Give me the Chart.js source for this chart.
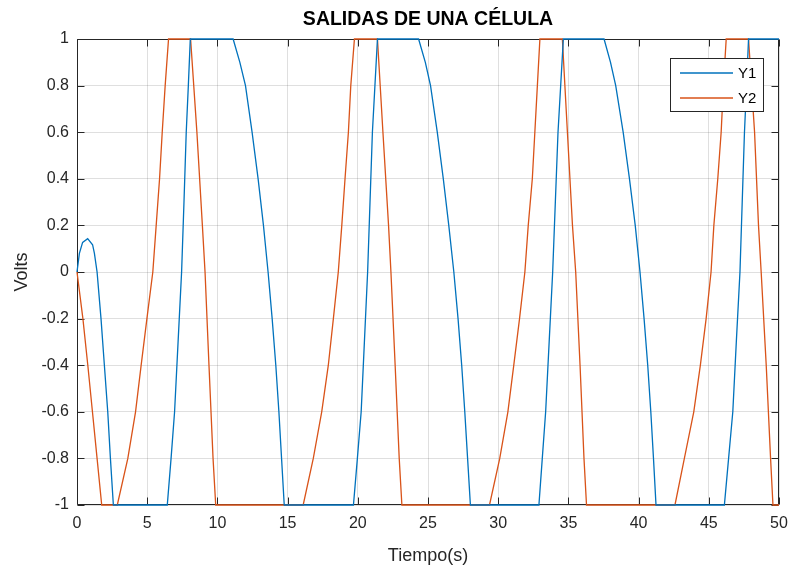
<!DOCTYPE html>
<html>
<head>
<meta charset="utf-8">
<script src="https://cdn.jsdelivr.net/npm/chart.js@4.4.1/dist/chart.umd.min.js"></script>
<style>
  html, body { margin: 0; padding: 0; background: #fff; }
  #wrap { width: 792px; height: 571px; position: relative; }
</style>
</head>
<body>
<div id="wrap"><canvas id="c" width="792" height="571"></canvas></div>
<script>
// ---- data ----
const chartTitle = 'SALIDAS DE UNA CÉLULA';
const xTitle = 'Tiempo(s)';
const yTitle = 'Volts';
const seriesNames = ['Y1', 'Y2'];

const y1Time = [0, 0.17, 0.4, 0.76, 1.11, 1.24, 1.43, 1.71, 1.95, 2.19, 2.38, 2.59,
  6.43, 6.7, 6.95, 7.2, 7.45, 7.62, 7.78, 7.93, 8.07,
  11.12, 11.6, 12.0, 12.47, 12.9, 13.28, 13.61, 13.9, 14.16, 14.38, 14.57, 14.76,
  19.69, 19.97, 20.24, 20.47, 20.7, 20.87, 21.04, 21.22, 21.4,
  24.33, 24.81, 25.18, 25.66, 26.09, 26.48, 26.84, 27.14, 27.4, 27.62, 27.82, 28.02,
  32.9, 33.14, 33.38, 33.63, 33.88, 34.07, 34.26, 34.45, 34.64,
  37.54, 38.0, 38.37, 38.9, 39.35, 39.76, 40.1, 40.39, 40.65, 40.87, 41.06, 41.24,
  46.11, 46.41, 46.71, 46.96, 47.22, 47.38, 47.54, 47.69, 47.83, 50];
const y1Volts = [0, 0.08, 0.127, 0.143, 0.117, 0.08, 0, -0.2, -0.4, -0.6, -0.8, -1,
  -1, -0.8, -0.6, -0.3, 0, 0.3, 0.6, 0.8, 1,
  1, 0.9, 0.8, 0.6, 0.4, 0.2, 0, -0.2, -0.4, -0.6, -0.8, -1,
  -1, -0.8, -0.6, -0.3, 0, 0.3, 0.6, 0.8, 1,
  1, 0.9, 0.8, 0.6, 0.4, 0.2, 0, -0.2, -0.4, -0.6, -0.8, -1,
  -1, -0.8, -0.6, -0.3, 0, 0.3, 0.6, 0.8, 1,
  1, 0.9, 0.8, 0.6, 0.4, 0.2, 0, -0.2, -0.4, -0.6, -0.8, -1,
  -1, -0.8, -0.6, -0.3, 0, 0.3, 0.6, 0.8, 1, 1];

const y2Time = [0, 0.42, 0.77, 1.1, 1.43, 1.76,
  2.87, 3.62, 4.17, 4.57, 4.98, 5.4, 5.64, 5.88, 6.07, 6.28, 6.52,
  8.09, 8.54, 8.93, 9.12, 9.4, 9.69, 9.88,
  16.11, 16.83, 17.43, 17.9, 18.26, 18.61, 18.86, 19.09, 19.33, 19.5, 19.76,
  21.4, 21.79, 22.19, 22.36, 22.66, 22.95, 23.14,
  29.38, 30.11, 30.69, 31.11, 31.52, 31.9, 32.14, 32.43, 32.61, 32.79, 32.97,
  34.57, 34.93, 35.29, 35.52, 35.83, 36.11, 36.29,
  42.59, 43.26, 43.93, 44.4, 44.81, 45.16, 45.36, 45.64, 45.88, 46.04, 46.24,
  47.83, 48.26, 48.54, 48.73, 49.09, 49.4, 49.57, 50];
const y2Volts = [0, -0.2, -0.4, -0.6, -0.8, -1,
  -1, -0.8, -0.6, -0.4, -0.2, 0, 0.2, 0.4, 0.6, 0.8, 1,
  1, 0.6, 0.2, 0, -0.4, -0.8, -1,
  -1, -0.8, -0.6, -0.4, -0.2, 0, 0.2, 0.4, 0.6, 0.8, 1,
  1, 0.6, 0.2, 0, -0.4, -0.8, -1,
  -1, -0.8, -0.6, -0.4, -0.2, 0, 0.2, 0.4, 0.6, 0.8, 1,
  1, 0.6, 0.2, 0, -0.4, -0.8, -1,
  -1, -0.8, -0.6, -0.4, -0.2, 0, 0.2, 0.4, 0.6, 0.8, 1,
  1, 0.6, 0.2, 0, -0.4, -0.8, -1, -1];

const xTicks = [0, 5, 10, 15, 20, 25, 30, 35, 40, 45, 50];
const yTicks = [-1, -0.8, -0.6, -0.4, -0.2, 0, 0.2, 0.4, 0.6, 0.8, 1];

// ---- build ----
const toPts = (xs, ys) => xs.map((x, i) => ({ x: x, y: ys[i] }));
const FONT = "'Liberation Sans', Arial, Helvetica, sans-serif";
const AXC = '#262626';

const fmt = v => {
  let r = Math.round(v * 10) / 10;
  if (Object.is(r, -0)) r = 0;
  return String(r);
};

const boxPlugin = {
  id: 'matlabBox',
  beforeDatasetsDraw(chart) {
    const { ctx, chartArea: a, scales } = chart;
    ctx.save();
    ctx.strokeStyle = AXC;
    ctx.lineWidth = 1;
    const L = Math.round(a.left) + 0.5, R = Math.round(a.right) - 0.5;
    const T = Math.round(a.top) + 0.5, B = Math.round(a.bottom) - 0.5;
    ctx.beginPath();
    ctx.rect(L, T, R - L, B - T);
    const tl = 7;
    xTicks.forEach(v => {
      const px = Math.round(scales.x.getPixelForValue(v)) + 0.5;
      ctx.moveTo(px, B); ctx.lineTo(px, B - tl);
      ctx.moveTo(px, T); ctx.lineTo(px, T + tl);
    });
    yTicks.forEach(v => {
      const py = Math.round(scales.y.getPixelForValue(v)) + 0.5;
      ctx.moveTo(L, py); ctx.lineTo(L + tl, py);
      ctx.moveTo(R, py); ctx.lineTo(R - tl, py);
    });
    ctx.stroke();
    ctx.restore();
  },
  afterDraw(chart) {
    const { ctx } = chart;
    const bx = 670.5, by = 58.5, bw = 93, bh = 53;
    ctx.save();
    ctx.fillStyle = '#fff';
    ctx.fillRect(bx, by, bw, bh);
    ctx.strokeStyle = AXC;
    ctx.lineWidth = 1;
    ctx.strokeRect(bx, by, bw, bh);
    ctx.font = '15px ' + FONT;
    ctx.textBaseline = 'middle';
    ctx.textAlign = 'left';
    chart.data.datasets.forEach((ds, i) => {
      const yy = 73 + i * 25;
      ctx.strokeStyle = ds.borderColor;
      ctx.lineWidth = 1.3;
      ctx.beginPath();
      ctx.moveTo(680, yy); ctx.lineTo(733, yy);
      ctx.stroke();
      ctx.fillStyle = '#000';
      ctx.fillText(ds.label, 738, yy + 1);
    });
    ctx.restore();
  }
};

new Chart(document.getElementById('c'), {
  type: 'line',
  data: {
    datasets: [
      { label: seriesNames[0], data: toPts(y1Time, y1Volts), borderColor: '#0072BD',
        borderWidth: 1.3, pointRadius: 0, tension: 0, fill: false, clip: 3 },
      { label: seriesNames[1], data: toPts(y2Time, y2Volts), borderColor: '#D95319',
        borderWidth: 1.3, pointRadius: 0, tension: 0, fill: false, clip: 3 }
    ]
  },
  options: {
    responsive: false,
    animation: false,
    events: [],
    layout: { padding: { left: 0, right: 13, top: 0, bottom: 0 } },
    plugins: {
      legend: { display: false },
      tooltip: { enabled: false },
      title: {
        display: true, text: chartTitle, fullSize: false, color: '#000',
        font: { family: FONT, size: 19.5, weight: 'bold' },
        padding: { top: 8.3, bottom: 7.3 }
      }
    },
    scales: {
      x: {
        type: 'linear', min: 0, max: 50,
        afterFit(s) { s.height = 66; s.paddingLeft = 0; s.paddingRight = 0; },
        afterBuildTicks(s) { s.ticks = xTicks.map(v => ({ value: v })); },
        ticks: { color: AXC, font: { family: FONT, size: 16 }, padding: 9, callback: fmt, maxRotation: 0 },
        grid: { color: 'rgba(38,38,38,0.15)', drawTicks: false },
        border: { display: false },
        title: { display: true, text: xTitle, color: AXC, font: { family: FONT, size: 18 }, padding: { top: 0, bottom: 3.7 } }
      },
      y: {
        type: 'linear', min: -1, max: 1,
        afterFit(s) { s.width = 77; s.paddingTop = 0; s.paddingBottom = 0; },
        afterBuildTicks(s) { s.ticks = yTicks.map(v => ({ value: v })); },
        ticks: { color: AXC, font: { family: FONT, size: 16 }, padding: 8, callback: fmt },
        grid: { color: 'rgba(38,38,38,0.15)', drawTicks: false },
        border: { display: false },
        title: { display: true, text: yTitle, color: AXC, font: { family: FONT, size: 18 }, padding: { top: 11.2, bottom: 0 } }
      }
    }
  },
  plugins: [boxPlugin]
});
</script>
</body>
</html>
